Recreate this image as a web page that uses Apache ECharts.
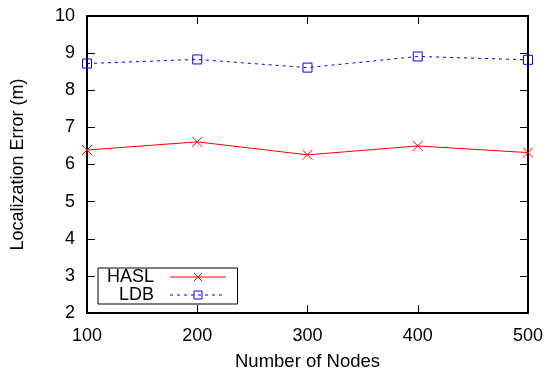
<!DOCTYPE html>
<html><head><meta charset="utf-8">
<script src="https://cdn.jsdelivr.net/npm/echarts@6/dist/echarts.min.js"></script>
<style>html,body{margin:0;padding:0;background:#fff}#c{width:546px;height:371px}</style>
</head><body><div id="c"></div>
<script>
var nodes = [100, 200, 300, 400, 500];
var hasl = [6.39, 6.61, 6.26, 6.50, 6.32];
var ldb = [8.72, 8.83, 8.61, 8.91, 8.82];
var xTitle = 'Number of Nodes';
var yTitle = 'Localization Error (m)';

var F = 'Liberation Sans, Arial, Helvetica, sans-serif';
function pairs(xs, ys){ return xs.map(function(x,i){return [x, ys[i]];}); }
var tickStyle = {show:true, inside:true, length:8, lineStyle:{color:'#000', width:1}};
var lineStyleAxis = {show:true, lineStyle:{color:'#000', width:2}};
var chart = echarts.init(document.getElementById('c'), null, {renderer:'canvas'});
chart.setOption({
  animation:false,
  backgroundColor:'#fff',
  grid:{left:87, right:18, top:16, bottom:58, containLabel:false, outerBoundsMode:'none'},
  xAxis:[{
    type:'value', min:100, max:500, interval:100, position:'bottom',
    name:xTitle, nameLocation:'middle', nameGap:39,
    nameTextStyle:{fontFamily:F, fontSize:18.5, color:'#000'},
    axisLine:lineStyleAxis, axisTick:tickStyle,
    axisLabel:{fontFamily:F, fontSize:18, color:'#000', margin:14},
    splitLine:{show:false}
  },{
    type:'value', min:100, max:500, interval:100, position:'top',
    axisLine:lineStyleAxis, axisTick:tickStyle, axisLabel:{show:false}, splitLine:{show:false}
  }],
  yAxis:[{
    type:'value', min:2, max:10, interval:1, position:'left',
    name:yTitle, nameLocation:'middle', nameGap:60, nameRotate:90,
    nameTextStyle:{fontFamily:F, fontSize:18, color:'#000'},
    axisLine:lineStyleAxis, axisTick:tickStyle,
    axisLabel:{fontFamily:F, fontSize:18, color:'#000', margin:12},
    splitLine:{show:false}
  },{
    type:'value', min:2, max:10, interval:1, position:'right',
    axisLine:lineStyleAxis, axisTick:tickStyle, axisLabel:{show:false}, splitLine:{show:false}
  }],
  legend:{
    orient:'vertical', left:98, top:268, align:'right',
    itemWidth:56, itemHeight:10, itemGap:0,
    padding:[0,11,0,9],
    borderColor:'#000', borderWidth:1, backgroundColor:'#fff',
    itemStyle:{borderWidth:1},
    lineStyle:{width:1},
    textStyle:{fontFamily:F, fontSize:18, color:'#000', lineHeight:18, padding:[0,11,0,0]},
    data:['HASL','LDB']
  },
  series:[{
    name:'HASL', type:'line', data:pairs(nodes, hasl),
    symbol:'path://M0,0L10,10M10,0L0,10', symbolSize:10,
    itemStyle:{color:'rgba(0,0,0,0)', borderColor:'#ff0000', borderWidth:1},
    lineStyle:{color:'#ff0000', width:1}
  },{
    name:'LDB', type:'line', data:pairs(nodes, ldb),
    symbol:'rect', symbolSize:9,
    itemStyle:{color:'rgba(0,0,0,0)', borderColor:'#0000ff', borderWidth:1},
    lineStyle:{color:'#0000ff', width:1, type:[3,4]}
  }]
});
</script></body></html>
